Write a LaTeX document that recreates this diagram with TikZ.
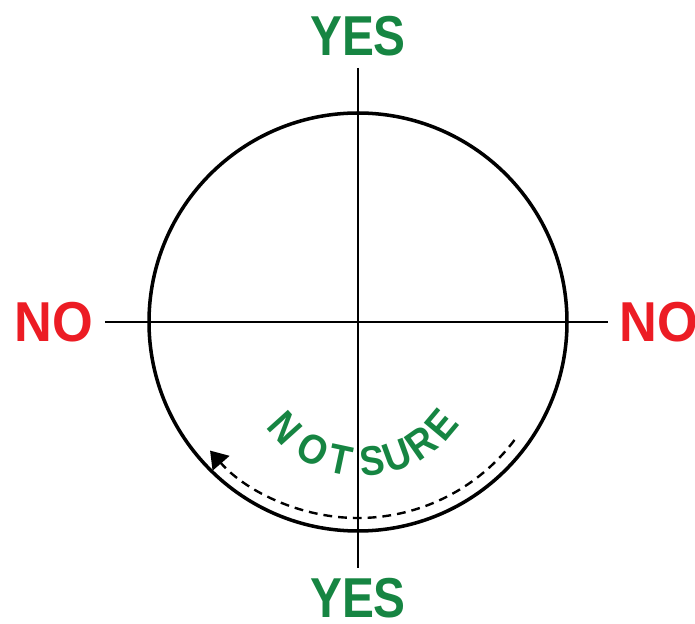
\documentclass[tikz,border=0pt]{standalone}
\usepackage{fontspec}
\setmainfont{Liberation Sans}
\usetikzlibrary{calc,arrows.meta}
\definecolor{YesGreen}{RGB}{22,133,66}
\definecolor{NoRed}{RGB}{236,28,36}
\tikzset{
  axis/.style={draw=black,line width=1.9pt},
  ring/.style={draw=black,line width=2.5pt},
  yes/.style={text=YesGreen,font=\fontsize{40}{40}\selectfont\bfseries,inner sep=0pt,xscale=0.85},
  no/.style={text=NoRed,font=\fontsize{40}{40}\selectfont\bfseries,inner sep=0pt,xscale=0.93},
}
\tikzset{unsure/.style={text=YesGreen,font=\fontsize{29.5}{29.5}\selectfont\bfseries,inner sep=0pt,xscale=0.9},
  swing/.style={draw=black,line width=1.7pt,dash pattern=on 0.22cm off 0.15cm,-{Triangle[length=0.42cm,width=0.55cm]}}}

\begin{document}
\begin{tikzpicture}[x=0.025cm,y=0.025cm]
\useasboundingbox (-358,-301) rectangle (337,322);
\coordinate (c) at (0,0);
\coordinate (pN) at (0,254);
\coordinate (pS) at (0,-246);
\coordinate (pW) at (-253,0);
\coordinate (pE) at (250,0);
\coordinate (arcC) at (4,-36);
\coordinate (dashR) at (-37:196);
\draw[ring] (c) circle[radius=209];
\draw[axis] (pN) -- (pS);
\draw[axis] (pW) -- (pE);
\draw[swing] (dashR) arc[start angle=-37,end angle=-139,radius=196];
\node[yes] (yesN) at (0,286) {YES};
\node[yes] (yesS) at (0,-276) {YES};
\node[no] (noW) at (-304,0) {NO};
\node[no] (noE) at (301,0) {NO};
\foreach \ch/\ang [count=\i] in {N/222,O/242,T/258,S/276,U/290,R/305,E/320}
  \node[rotate=\ang+90,unsure] (ns\i) at ($(arcC)+(\ang:104)$) {\ch};
\end{tikzpicture}
\end{document}
